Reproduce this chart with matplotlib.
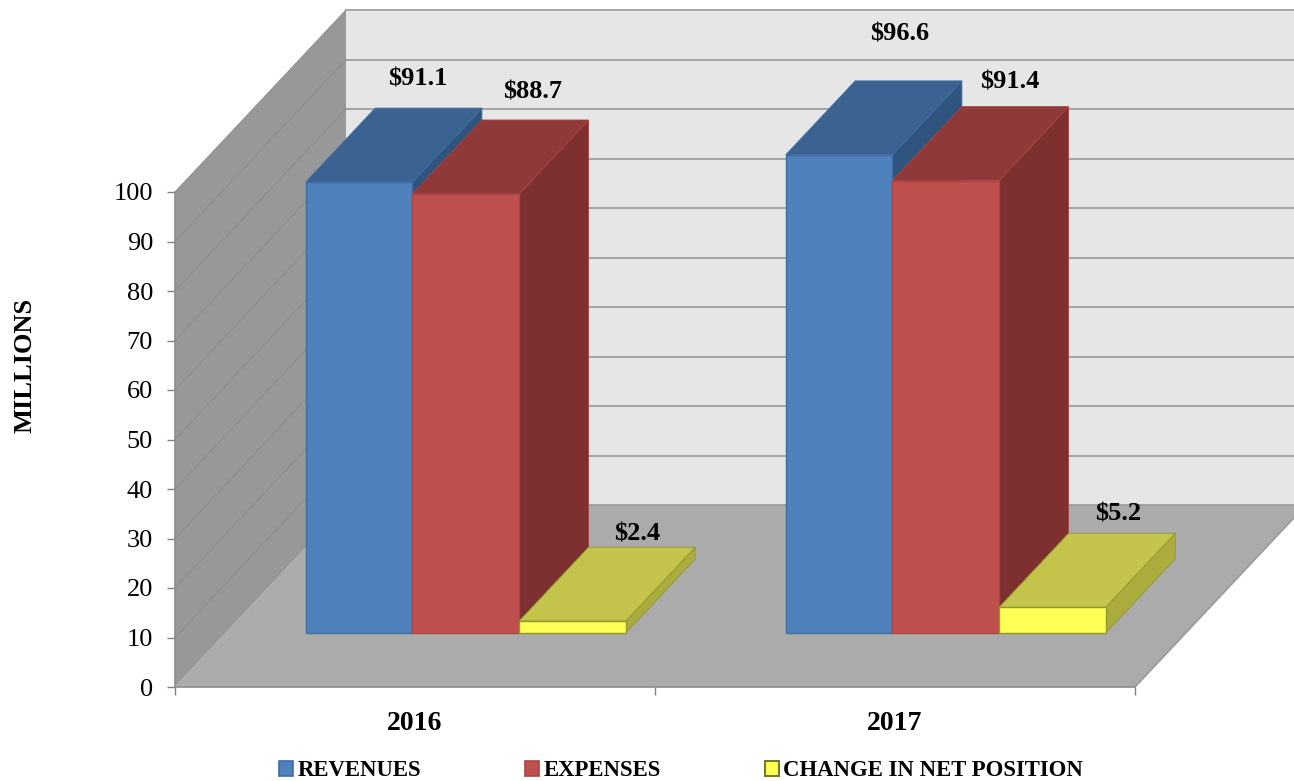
import matplotlib
matplotlib.use("Agg")
import matplotlib.pyplot as plt
from matplotlib.patches import Polygon, Patch

years = ["2016", "2017"]
series = ["REVENUES", "EXPENSES", "CHANGE IN NET POSITION"]
revenues = [91.1, 96.6]
expenses = [88.7, 91.4]
change = [2.4, 5.2]
yticks = list(range(0, 101, 10))

W, H = 1294, 781
plt.rcParams['font.family'] = ['Liberation Serif', 'DejaVu Serif']
fig = plt.figure(figsize=(W / 100, H / 100), dpi=100)
ax = fig.add_axes([175 / W, (H - 687) / H, 960 / W, 495 / H])
ax.set_xlim(0, 2)
ax.set_ylim(0, 100)
ax.patch.set_visible(False)

# oblique depth of the 3-D box, in data units
DX = 171 / 480
DY = 182 / 4.95
def P(x, v, d=0.0):
    return (x + d * DX, v + d * DY)

def poly(pts, fc, ec='none', lw=0.0, z=1):
    ax.add_patch(Polygon(pts, closed=True, facecolor=fc, edgecolor=ec, linewidth=lw,
                         clip_on=False, zorder=z, joinstyle='miter'))

# walls and floor
poly([P(0, 0, 1), P(2, 0, 1), P(2, 100, 1), P(0, 100, 1)], '#E6E6E6', z=1)
poly([P(0, 0), P(0, 0, 1), P(0, 100, 1), P(0, 100)], '#989898', z=2)
poly([P(0, 0), P(2, 0), P(2, 0, 1), P(0, 0, 1)], '#ABABAB', z=2)
for v in yticks[1:]:
    a, b, c = P(0, v), P(0, v, 1), P(2, v, 1)
    ax.plot([a[0], b[0]], [a[1], b[1]], color='#8C8C8C', lw=0.7, clip_on=False, zorder=3)
    ax.plot([b[0], c[0]], [b[1], c[1]], color='#929292', lw=1.1, clip_on=False, zorder=3)
a, b, c = P(0, 0), P(0, 0, 1), P(2, 0, 1)
ax.plot([b[0], c[0]], [b[1], c[1]], color='#999999', lw=1.2, clip_on=False, zorder=3)
a, b = P(2, 0), P(2, 0, 1)
ax.plot([a[0], b[0]], [a[1], b[1]], color='#9A9A9A', lw=1.2, clip_on=False, zorder=3)

# 3-D columns
GAP = 1 / 6
BW = 2 / 9
D0, D1 = 0.297, 0.703
styles = [
    dict(front='#4F81BD', top='#3B6290', side='#2F5480', edge='#3E6DA3'),
    dict(front='#C0504D', top='#8F3A38', side='#7D302F', edge='#A84442'),
    dict(front='#FFFF55', top='#C4C44C', side='#ABAB3E', edge='#8E9A2C'),
]
values = [revenues, expenses, change]
# hand placement of each value label relative to the back of the column top, in pixels
nudges = [[(-11, 29), (-9, 47)], [(-3, 28), (-5, 25)], [(-5, 13), (-4, 19)]]

z = 5
for g in range(len(years)):
    for s, vals in enumerate(values):
        st = styles[s]
        x0 = g + GAP + s * BW
        x1 = x0 + BW
        v = vals[g]
        ec = st['edge']
        poly([P(x1, 0, D0), P(x1, 0, D1), P(x1, v, D1), P(x1, v, D0)], st['side'], ec, 0.6, z)
        poly([P(x0, v, D0), P(x1, v, D0), P(x1, v, D1), P(x0, v, D1)], st['top'], ec, 0.6, z)
        poly([P(x0, 0, D0), P(x1, 0, D0), P(x1, v, D0), P(x0, v, D0)], st['front'], ec, 1.0, z)
        z += 1
for g in range(len(years)):
    for s, vals in enumerate(values):
        x0 = g + GAP + s * BW
        nx, ny = nudges[s][g]
        ax.annotate(f"${vals[g]}", xy=P(x0 + BW / 2, vals[g], D1), xytext=(nx * 0.72, ny * 0.72),
                    textcoords='offset points', ha='center', va='center', fontsize=19,
                    fontweight='bold', color='black', zorder=50, annotation_clip=False)

# axes
for k in ('top', 'right'):
    ax.spines[k].set_visible(False)
for k in ('left', 'bottom'):
    ax.spines[k].set_color('#8C8C8C')
    ax.spines[k].set_linewidth(1.2)
    ax.spines[k].set_zorder(4)
ax.set_yticks(yticks)
ax.set_yticklabels([str(t) for t in yticks], fontsize=19)
ax.tick_params(axis='y', length=5.8, width=1, color='#808080', pad=10)
ax.set_xticks([0, 1, 2])
ax.set_xticklabels([])
ax.tick_params(axis='x', which='major', length=5.8, width=1, color='#808080')
ax.set_xticks([0.5, 1.5], minor=True)
ax.set_xticklabels(years, minor=True, fontsize=20, fontweight='bold')
ax.tick_params(axis='x', which='minor', length=0, pad=17)
ax.set_ylabel("MILLIONS", fontsize=19, fontweight='bold')
ax.yaxis.set_label_coords((37 - 175) / 960, (687 - 365) / 495)

handles = [Patch(facecolor=st['front'], edgecolor=st['edge'], linewidth=1.2) for st in styles]
handles[2] = Patch(facecolor=styles[2]['front'], edgecolor='#6E7A20', linewidth=1.4)
ax.legend(handles, series, loc='center left', bbox_to_anchor=((279 - 175) / 960, (687 - 771) / 495),
          ncol=3, frameon=False, handlelength=0.62, handleheight=0.6, handletextpad=0.2,
          columnspacing=4.55, borderpad=0, borderaxespad=0,
          prop={'weight': 'bold', 'size': 16.4})

fig.savefig("out.png", dpi=100)
